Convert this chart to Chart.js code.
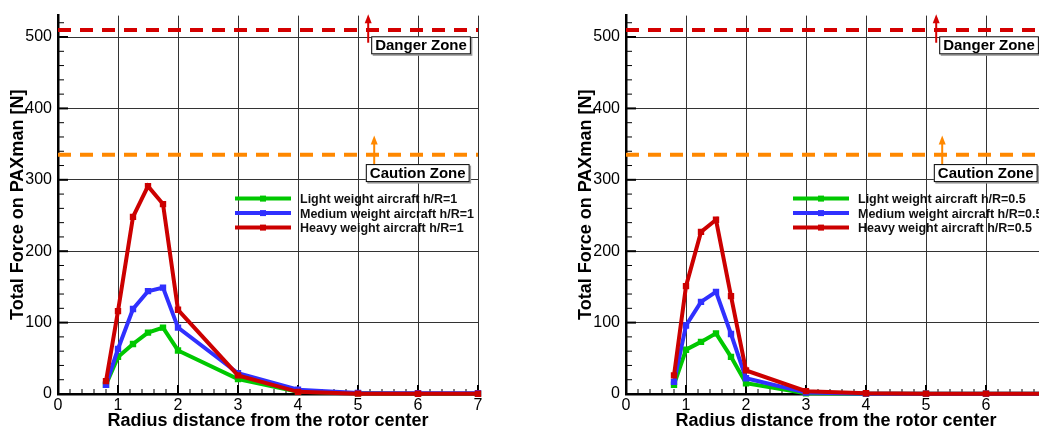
<!DOCTYPE html>
<html>
<head>
<meta charset="utf-8">
<script src="https://cdn.jsdelivr.net/npm/chart.js@4"></script>
<style>
  html, body { margin: 0; padding: 0; background: #fff; overflow: hidden; }
  body { width: 1039px; height: 432px; position: relative; }
  .box { position: absolute; top: 0; width: 500px; height: 432px; }
  #leftBox { left: 0; }
  #rightBox { left: 568px; }
</style>
</head>
<body>
<div class="box" id="leftBox"><canvas id="leftChart"></canvas></div>
<div class="box" id="rightBox"><canvas id="rightChart"></canvas></div>
<script>
// --- Data ---
const radius = [0.8, 1, 1.25, 1.5, 1.75, 2, 3, 4, 5, 6, 7];

// h/R = 1
const lightH1 = [13, 52, 70, 86, 93, 61, 21, 3, 1, 0.5, 0.5];
const mediumH1 = [13, 63, 119, 144, 149, 93, 29, 6, 1.5, 1, 1];
const heavyH1 = [18, 116, 248, 291, 266, 118, 26, 3, 0.5, 0.3, 0.3];

// h/R = 0.5
const lightH05 = [13, 62, 73, 85, 52, 15, 1, 0.3, 0.3, 0.3, 0.3];
const mediumH05 = [17, 96, 129, 143, 84, 22, 2, 0.5, 0.5, 0.5, 0.5];
const heavyH05 = [26, 151, 227, 244, 137, 33, 4, 1, 0.5, 0.5, 0.5];

const seriesNames = ["Light weight aircraft", "Medium weight aircraft", "Heavy weight aircraft"];
const seriesColors = ["#00c800", "#3030ff", "#cc0000"];

// danger / caution thresholds
const zoneNames = ["Danger Zone", "Caution Zone"];
const zoneValues = [510, 335];
const zoneColors = ["#d40000", "#ff8800"];

const xTicks = [0, 1, 2, 3, 4, 5, 6, 7];
const yTicks = [0, 100, 200, 300, 400, 500];

const FONT = "'Liberation Sans', Arial, Helvetica, sans-serif";

// --- Tecplot-style inward ticks ---
const frameTicks = {
  id: "frameTicks",
  beforeDatasetsDraw(chart) {
    const { ctx, chartArea: a, scales: { x, y } } = chart;
    ctx.save();
    ctx.strokeStyle = "#000";
    for (let v = 0; v <= 7.001; v += 0.2) {
      const major = Math.abs(v - Math.round(v)) < 0.01;
      const px = x.getPixelForValue(v);
      ctx.lineWidth = major ? 2 : 1;
      ctx.beginPath();
      ctx.moveTo(px, a.bottom);
      ctx.lineTo(px, a.bottom - (major ? 9 : 5));
      ctx.stroke();
    }
    for (let v = 0; v <= 530; v += 20) {
      const major = v % 100 === 0;
      const py = y.getPixelForValue(v);
      ctx.lineWidth = major ? 2 : 1;
      ctx.beginPath();
      ctx.moveTo(a.left, py);
      ctx.lineTo(a.left + (major ? 10 : 6), py);
      ctx.stroke();
    }
    ctx.restore();
  }
};

// --- Zone arrows and boxed labels ---
const zoneLabels = {
  id: "zoneLabels",
  afterDatasetsDraw(chart) {
    const { ctx, scales: { x, y } } = chart;
    const arrows = [
      { x: 5.17, from: 492, to: 532 },
      { x: 5.27, from: 321, to: 362 }
    ];
    const boxes = [
      { x: 5.22, y: 501 },
      { x: 5.13, y: 322 }
    ];
    ctx.save();
    zoneNames.forEach((name, i) => {
      const ar = arrows[i];
      const ax = x.getPixelForValue(ar.x);
      const y0 = y.getPixelForValue(ar.from);
      const y1 = y.getPixelForValue(ar.to);
      ctx.strokeStyle = zoneColors[i];
      ctx.fillStyle = zoneColors[i];
      ctx.lineWidth = 2;
      ctx.beginPath();
      ctx.moveTo(ax, y0);
      ctx.lineTo(ax, y1 + 6);
      ctx.stroke();
      ctx.beginPath();
      ctx.moveTo(ax, y1);
      ctx.lineTo(ax - 3.5, y1 + 9);
      ctx.lineTo(ax + 3.5, y1 + 9);
      ctx.closePath();
      ctx.fill();

      const b = boxes[i];
      const bx = x.getPixelForValue(b.x);
      const by = y.getPixelForValue(b.y);
      ctx.font = "bold 15px " + FONT;
      const w = ctx.measureText(name).width + 8;
      const h = 18;
      ctx.fillStyle = "#999";
      ctx.fillRect(bx + 1.5, by + 1.5, w, h);
      ctx.fillStyle = "#fff";
      ctx.fillRect(bx, by, w, h);
      ctx.strokeStyle = "#000";
      ctx.lineWidth = 1;
      ctx.strokeRect(bx + 0.5, by + 0.5, w - 1, h - 1);
      ctx.fillStyle = "#000";
      ctx.textBaseline = "middle";
      ctx.textAlign = "left";
      ctx.fillText(name, bx + 4, by + h / 2 + 1);
    });
    ctx.restore();
  }
};

// --- Legend drawn inside the plot ---
const innerLegend = {
  id: "innerLegend",
  afterDraw(chart, args, opts) {
    const { ctx, chartArea: a } = chart;
    const items = chart.data.datasets.filter(d => d.inLegend);
    ctx.save();
    ctx.font = "bold 12.5px " + FONT;
    ctx.textBaseline = "middle";
    ctx.textAlign = "left";
    items.forEach((d, i) => {
      const yy = a.top + opts.top + i * 14.5;
      const x0 = a.left + opts.left;
      ctx.strokeStyle = d.borderColor;
      ctx.lineWidth = 4;
      ctx.beginPath();
      ctx.moveTo(x0, yy);
      ctx.lineTo(x0 + 56, yy);
      ctx.stroke();
      ctx.fillStyle = d.borderColor;
      ctx.fillRect(x0 + 25, yy - 3, 6, 6);
      ctx.fillStyle = "#111";
      ctx.fillText(d.label, x0 + 65, yy + 1);
    });
    ctx.restore();
  }
};

function pts(ys) {
  return radius.map((r, i) => ({ x: r, y: ys[i] }));
}

function makeChart(id, values, suffix, legendLeft) {
  const datasets = values.map((vals, i) => ({
    label: seriesNames[i] + " " + suffix,
    data: pts(vals),
    borderColor: seriesColors[i],
    backgroundColor: seriesColors[i],
    pointBackgroundColor: seriesColors[i],
    borderWidth: 4,
    pointStyle: "rect",
    pointRadius: 4.5,
    pointBorderWidth: 0,
    tension: 0,
    order: 3 - i,
    clip: 8,
    inLegend: true
  }));
  zoneValues.forEach((v, i) => {
    datasets.push({
      label: zoneNames[i],
      data: [{ x: 0, y: v }, { x: 7, y: v }],
      borderColor: zoneColors[i],
      borderWidth: 4,
      borderDash: [13, 9],
      pointRadius: 0,
      order: 5,
      inLegend: false
    });
  });

  return new Chart(document.getElementById(id), {
    type: "line",
    data: { datasets },
    plugins: [frameTicks, zoneLabels, innerLegend],
    options: {
      responsive: true,
      maintainAspectRatio: false,
      animation: false,
      layout: { padding: { top: 12, right: 22, left: 0, bottom: 0 } },
      scales: {
        x: {
          type: "linear",
          min: 0,
          max: 7,
          afterFit(s) { s.height = 38; },
          afterBuildTicks(s) { s.ticks = xTicks.map(v => ({ value: v })); },
          ticks: { color: "#000", padding: 2, font: { family: FONT, size: 16 } },
          grid: { color: "#333", lineWidth: 1, drawTicks: false },
          border: { color: "#000", width: 2.5 },
          title: {
            display: true,
            text: "Radius distance from the rotor center",
            color: "#000",
            padding: { top: 0, bottom: 0 },
            font: { family: FONT, size: 18, weight: "bold" }
          }
        },
        y: {
          type: "linear",
          min: 0,
          max: 530,
          afterFit(s) { s.width = 58; },
          afterBuildTicks(s) { s.ticks = yTicks.map(v => ({ value: v })); },
          ticks: { color: "#000", padding: 6, font: { family: FONT, size: 16 } },
          grid: { color: "#333", lineWidth: 1, drawTicks: false },
          border: { color: "#000", width: 2.5 },
          title: {
            display: true,
            text: "Total Force on PAXman [N]",
            color: "#000",
            padding: { top: 7, bottom: 0 },
            font: { family: FONT, size: 18, weight: "bold" }
          }
        }
      },
      plugins: {
        legend: { display: false },
        tooltip: { enabled: false },
        innerLegend: { left: legendLeft, top: 183 }
      }
    }
  });
}

makeChart("leftChart", [lightH1, mediumH1, heavyH1], "h/R=1", 177);
makeChart("rightChart", [lightH05, mediumH05, heavyH05], "h/R=0.5", 167);
</script>
</body>
</html>
